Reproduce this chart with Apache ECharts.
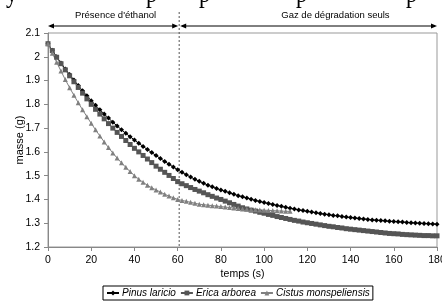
<!DOCTYPE html>
<html><head><meta charset="utf-8">
<script src="https://cdn.jsdelivr.net/npm/echarts@6/dist/echarts.min.js"></script>
<style>html,body{margin:0;padding:0;background:#fff}#c{width:442px;height:302px}</style>
</head><body><div id="c"></div>
<script>
// time (s), sampled every 2 s
const timeSteps = [0,2,4,6,8,10,12,14,16,18,20,22,24,26,28,30,32,34,36,38,40,42,44,46,48,50,52,54,56,58,60,62,64,66,68,70,72,74,76,78,80,82,84,86,88,90,92,94,96,98,100,102,104,106,108,110,112,114,116,118,120,122,124,126,128,130,132,134,136,138,140,142,144,146,148,150,152,154,156,158,160,162,164,166,168,170,172,174,176,178,180];
const pinusLaricio = [2.055,2.027,2.000,1.974,1.949,1.925,1.902,1.879,1.857,1.836,1.815,1.796,1.777,1.759,1.742,1.725,1.709,1.693,1.678,1.664,1.650,1.636,1.623,1.610,1.597,1.585,1.572,1.560,1.548,1.536,1.525,1.514,1.504,1.494,1.485,1.476,1.468,1.460,1.453,1.446,1.440,1.434,1.428,1.422,1.416,1.411,1.406,1.401,1.396,1.391,1.387,1.383,1.379,1.375,1.371,1.367,1.363,1.360,1.356,1.353,1.350,1.347,1.344,1.341,1.338,1.336,1.333,1.331,1.328,1.326,1.324,1.322,1.320,1.318,1.316,1.314,1.313,1.311,1.310,1.308,1.307,1.306,1.305,1.303,1.302,1.301,1.300,1.299,1.298,1.297,1.296];
const ericaArborea = [2.055,2.026,1.998,1.971,1.945,1.920,1.895,1.871,1.847,1.823,1.800,1.779,1.759,1.739,1.719,1.700,1.682,1.665,1.648,1.631,1.615,1.600,1.585,1.570,1.555,1.540,1.527,1.514,1.501,1.488,1.475,1.466,1.458,1.450,1.442,1.435,1.428,1.420,1.413,1.406,1.400,1.393,1.386,1.379,1.372,1.365,1.360,1.355,1.351,1.346,1.342,1.337,1.333,1.328,1.324,1.320,1.316,1.312,1.309,1.305,1.302,1.299,1.296,1.293,1.290,1.287,1.285,1.282,1.280,1.277,1.275,1.273,1.271,1.269,1.267,1.265,1.263,1.261,1.259,1.257,1.256,1.255,1.253,1.252,1.251,1.250,1.249,1.248,1.248,1.247,1.247];
const cistusMonspeliensis = [2.055,2.015,1.977,1.940,1.904,1.870,1.838,1.807,1.777,1.748,1.720,1.693,1.667,1.642,1.618,1.595,1.574,1.554,1.535,1.517,1.500,1.485,1.472,1.460,1.449,1.440,1.431,1.422,1.414,1.407,1.400,1.396,1.392,1.388,1.384,1.380,1.378,1.376,1.374,1.372,1.370,1.368,1.366,1.364,1.362,1.360,1.359,1.358,1.357,1.356,1.355,1.354,1.353,1.352,1.351,1.350,1.350];
const seriesNames = ['Pinus laricio','Erica arborea','Cistus monspeliensis'];
const phaseLabels = ["Présence d'éthanol", 'Gaz de dégradation seuls'];
const phaseBoundary = 60.7;
const xTicks = {min:0, max:180, interval:20};
const yTicks = {min:1.2, max:2.1, interval:0.1};

const SANS = '"Liberation Sans",Arial,sans-serif';

function pairs(vals){ return vals.map((v,i)=>[timeSteps[i], v]); }

const chart = echarts.init(document.getElementById('c'), null, {renderer:'canvas'});
chart.setOption({
  animation:false,
  backgroundColor:'#fff',
  grid:{left:48, right:5, top:33, bottom:55, show:true, borderColor:'#999', borderWidth:1,
    containLabel:false, outerBoundsMode:'none'},
  xAxis:{type:'value', min:xTicks.min, max:xTicks.max, interval:xTicks.interval,
    name:'temps (s)', nameLocation:'middle', nameGap:22, nameMoveOverlap:false,
    nameTextStyle:{fontFamily:SANS, fontSize:10.5, color:'#000'},
    axisLine:{lineStyle:{color:'#888'}}, axisTick:{length:4, lineStyle:{color:'#888'}},
    axisLabel:{fontFamily:SANS, fontSize:10.5, color:'#000', margin:8},
    splitLine:{show:false}},
  yAxis:{type:'value', min:yTicks.min, max:yTicks.max, interval:yTicks.interval,
    name:'masse (g)', nameLocation:'middle', nameRotate:90, nameGap:23, nameMoveOverlap:false,
    nameTextStyle:{fontFamily:SANS, fontSize:11, color:'#000'},
    axisLine:{show:true, lineStyle:{color:'#888'}}, axisTick:{show:true, length:4, lineStyle:{color:'#888'}},
    axisLabel:{fontFamily:SANS, fontSize:10.5, color:'#000', margin:8, formatter:v=>String(+v.toFixed(1))},
    splitLine:{show:false}},
  legend:{bottom:2, left:103, orient:'horizontal', borderColor:'#000', borderWidth:1, padding:[2,3],
    itemWidth:12, itemHeight:6, itemGap:4,
    textStyle:{fontFamily:SANS, fontSize:10, fontStyle:'italic', color:'#000', padding:[0,0,0,-2]},
    data:seriesNames},
  series:[
    {name:seriesNames[0], type:'line', data:pairs(pinusLaricio), symbol:'diamond', symbolSize:5,
     lineStyle:{width:1, color:'#000'}, itemStyle:{color:'#000'}},
    {name:seriesNames[1], type:'line', data:pairs(ericaArborea), symbol:'rect', symbolSize:5,
     lineStyle:{width:1, color:'#555'}, itemStyle:{color:'#555'}},
    {name:seriesNames[2], type:'line', data:pairs(cistusMonspeliensis), symbol:'triangle', symbolSize:5,
     lineStyle:{width:1, color:'#808080'}, itemStyle:{color:'#808080'}}
  ]
});

const x0 = chart.convertToPixel({xAxisIndex:0}, xTicks.min);
const xm = chart.convertToPixel({xAxisIndex:0}, phaseBoundary);
const x1 = chart.convertToPixel({xAxisIndex:0}, xTicks.max);
const yTop = chart.convertToPixel({yAxisIndex:0}, yTicks.max);
const yBot = chart.convertToPixel({yAxisIndex:0}, yTicks.min);
const ay = yTop - 7;
function arrow(xa, xb){
  return [
    {type:'line', shape:{x1:xa+2, y1:ay, x2:xb-2, y2:ay}, style:{stroke:'#000', lineWidth:1}},
    {type:'polygon', shape:{points:[[xa,ay],[xa+6,ay-2.5],[xa+6,ay+2.5]]}, style:{fill:'#000'}},
    {type:'polygon', shape:{points:[[xb,ay],[xb-6,ay-2.5],[xb-6,ay+2.5]]}, style:{fill:'#000'}}
  ];
}
const serif = '27px "Liberation Serif","Times New Roman",serif';
const topGlyphs = [['y',6],['p',146],['p',199],['p',296],['p',406]].map(([t,x])=>({
  type:'text', x:x, y:-19, scaleX:0.85, style:{text:t, font:serif, fill:'#000', verticalAlign:'top'}}));
chart.setOption({graphic:[
  ...arrow(x0, xm-1), ...arrow(xm+1, x1),
  {type:'line', shape:{x1:xm, y1:12, x2:xm, y2:yBot}, style:{stroke:'#555', lineWidth:1, lineDash:[2,2]}},
  {type:'text', x:(x0+xm)/2+2, y:15, style:{text:phaseLabels[0], font:'9.5px '+SANS, fill:'#000', align:'center', verticalAlign:'middle'}},
  {type:'text', x:chart.convertToPixel({xAxisIndex:0}, 133), y:15, style:{text:phaseLabels[1], font:'9.5px '+SANS, fill:'#000', align:'center', verticalAlign:'middle'}},
  ...topGlyphs
]});
</script></body></html>
